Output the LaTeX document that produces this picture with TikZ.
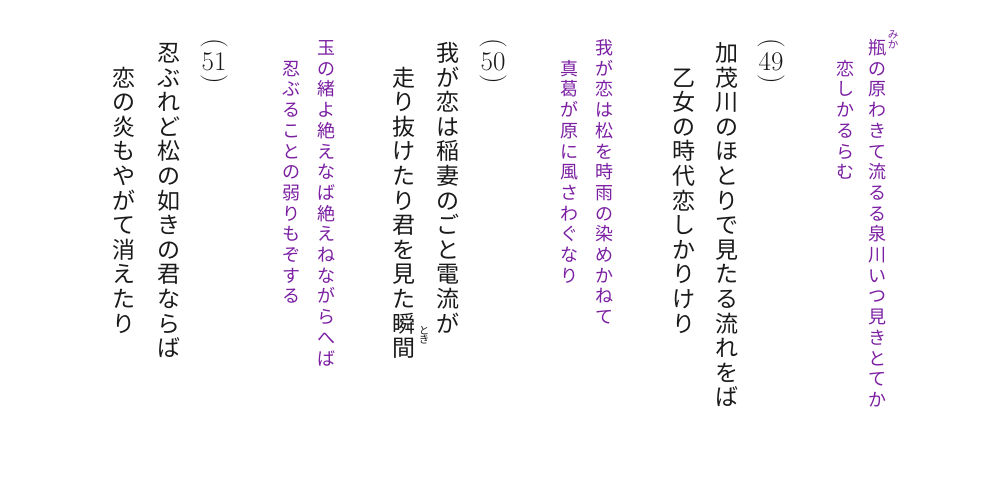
\documentclass[tikz,border=0pt]{standalone}
\usepackage{fontspec}
\newfontfamily\jpfont{Noto Sans CJK JP}
\usepackage{xcolor}
\definecolor{murasaki}{HTML}{7B1FA2}
\definecolor{sumi}{HTML}{1A1A1A}
\usetikzlibrary{positioning}

% vertical column: #1 = pitch, #2 = text
\ExplSyntaxOn
\NewDocumentCommand \tate { m m }
  {
    \vbox:n
      {
        \offinterlineskip
        \tl_map_inline:nn {#2}
          {
            \hbox_to_wd:nn { 1em }
              {
                \hss
                \vbox_to_ht:nn {#1}
                  { \vss \hbox:n { \vrule height .88em depth .12em width 0pt ##1 } \vss }
                \hss
              }
          }
      }
  }
\ExplSyntaxOff

% number with vertical brackets
\newcommand\kakko[1]{\vbox{\offinterlineskip\halign{\hfil##\hfil\cr
  \rotatebox[origin=c]{-90}{(}\cr\noalign{\kern3pt}
  #1\cr\noalign{\kern3pt}
  \rotatebox[origin=c]{-90}{)}\cr}}}

\begin{document}
\begin{tikzpicture}[
  x=1pt, y=-1pt,
  uta/.style={inner sep=0pt, anchor=north, text=sumi, font=\jpfont\fontsize{23}{24.6}\selectfont},
  honka/.style={inner sep=0pt, anchor=north, text=murasaki, font=\jpfont\fontsize{18}{20.7}\selectfont},
  bangou/.style={inner sep=0pt, text=sumi, font=\fontsize{27}{27}\selectfont},
  rubi/.style={inner sep=0pt, font=\jpfont\fontsize{10.5}{10.5}\selectfont}
]
\useasboundingbox (0,0) rectangle (1000,485);

% Honka
\node[honka] (mika) at (877,37.2) {\tate{20.7pt}{瓶の原わきて流るる泉川いつ見きとてか}};
\node[honka] (koishi) at (845,57.9) {\tate{20.7pt}{恋しかるらむ}};
\node[rubi, text=murasaki] (mikaR) at (893,40) {\tate{10pt}{みか}};

% (49)
\node[bangou] (n49) at (771,62) {\kakko{49}};
\node[uta] (u49a) at (727,40.2) {\tate{24.6pt}{加茂川のほとりで見たる流れをば}};
\node[uta] (u49b) at (684,64.8) {\tate{24.6pt}{乙女の時代恋しかりけり}};

% Honka
\node[honka] (waga) at (604,37.2) {\tate{20.7pt}{我が恋は松を時雨の染めかねて}};
\node[honka] (makuzu) at (569,57.9) {\tate{20.7pt}{真葛が原に風さわぐなり}};

% (50)
\node[bangou] (n50) at (493,62) {\kakko{50}};
\node[uta] (u50a) at (448,40.2) {\tate{24.6pt}{我が恋は稲妻のごと電流が}};
\node[uta] (u50b) at (404,64.8) {\tate{24.6pt}{走り抜けたり君を見た瞬間}};
\node[rubi, text=sumi] (tokiR) at (424,335) {\tate{9.5pt}{とき}};

% Honka
\node[honka] (tama) at (326,37.2) {\tate{20.7pt}{玉の緒よ絶えなば絶えねながらへば}};
\node[honka] (shinobu) at (291,57.9) {\tate{20.7pt}{忍ぶることの弱りもぞする}};

% (51)
\node[bangou] (n51) at (214,62) {\kakko{51}};
\node[uta] (u51a) at (169,40.2) {\tate{24.6pt}{忍ぶれど松の如きの君ならば}};
\node[uta] (u51b) at (124,64.8) {\tate{24.6pt}{恋の炎もやがて消えたり}};

\end{tikzpicture}
\end{document}
